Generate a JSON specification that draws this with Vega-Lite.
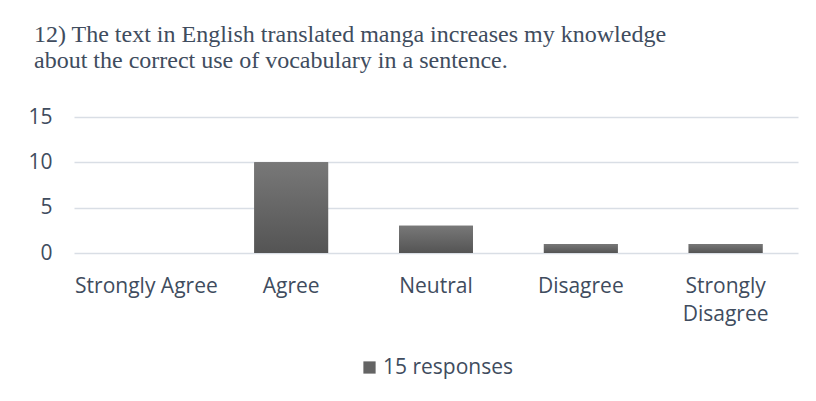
{
  "$schema": "https://vega.github.io/schema/vega-lite/v6.json",
  "width": 816,
  "height": 401,
  "autosize": {"type": "fit", "contains": "padding"},
  "padding": {"left": 27, "top": 23, "right": 18, "bottom": 23},
  "background": "white",
  "title": {
    "text": ["12) The text in English translated manga increases my knowledge", "about the correct use of vocabulary in a sentence."],
    "anchor": "start",
    "frame": "bounds",
    "dx": 6,
    "font": "Liberation Serif",
    "fontSize": 24,
    "fontWeight": "normal",
    "color": "#404c5e",
    "lineHeight": 26,
    "offset": 33
  },
  "data": {
    "values": [
      {"response": "Strongly Agree", "count": 0, "series": "15 responses"},
      {"response": "Agree", "count": 10, "series": "15 responses"},
      {"response": "Neutral", "count": 3, "series": "15 responses"},
      {"response": "Disagree", "count": 1, "series": "15 responses"},
      {"response": "Strongly Disagree", "count": 1, "series": "15 responses"}
    ]
  },
  "encoding": {
    "x": {
      "field": "response",
      "type": "nominal",
      "sort": null,
      "scale": {"paddingInner": 0.49, "paddingOuter": 0.245},
      "axis": {
        "title": null,
        "labelAngle": 0,
        "ticks": false,
        "domain": false,
        "labelFont": "Open Sans",
        "labelFontSize": 21,
        "labelColor": "#404c5e",
        "labelPadding": 22,
        "labelLineHeight": 28,
        "labelLimit": 0,
        "labelExpr": "datum.label == 'Strongly Disagree' ? ['Strongly', 'Disagree'] : datum.label"
      }
    },
    "y": {
      "field": "count",
      "type": "quantitative",
      "scale": {"domain": [0, 15]},
      "axis": {
        "title": null,
        "values": [0, 5, 10, 15],
        "ticks": false,
        "domain": false,
        "labelFont": "Open Sans",
        "labelFontSize": 21,
        "labelColor": "#404c5e",
        "labelPadding": 22,
        "gridColor": "#d9dee5",
        "gridWidth": 1.5
      }
    }
  },
  "layer": [
    {
      "mark": {"type": "bar"},
      "encoding": {
        "fill": {
          "field": "series",
          "type": "nominal",
          "scale": {"range": ["#646464"]},
          "legend": {
            "title": null,
            "orient": "bottom",
            "direction": "horizontal",
            "symbolType": "square",
            "symbolSize": 150,
            "symbolStrokeWidth": 0,
            "labelFont": "Open Sans",
            "labelFontSize": 21,
            "labelColor": "#404c5e",
            "labelOffset": 3,
            "offset": 33,
            "encode": {
              "symbols": {
                "update": {
                  "fill": {"value": {"gradient": "linear", "x1": 0, "y1": 0, "x2": 0, "y2": 1,
                    "stops": [{"offset": 0, "color": "#787878"}, {"offset": 1, "color": "#545454"}]}}
                }
              }
            }
          }
        }
      }
    },
    {
      "mark": {
        "type": "bar",
        "color": {"gradient": "linear", "x1": 0, "y1": 0, "x2": 0, "y2": 1,
          "stops": [{"offset": 0, "color": "#787878"}, {"offset": 1, "color": "#545454"}]}
      }
    }
  ],
  "config": {
    "view": {"stroke": null},
    "legend": {"layout": {"bottom": {"anchor": "middle"}}}
  }
}
